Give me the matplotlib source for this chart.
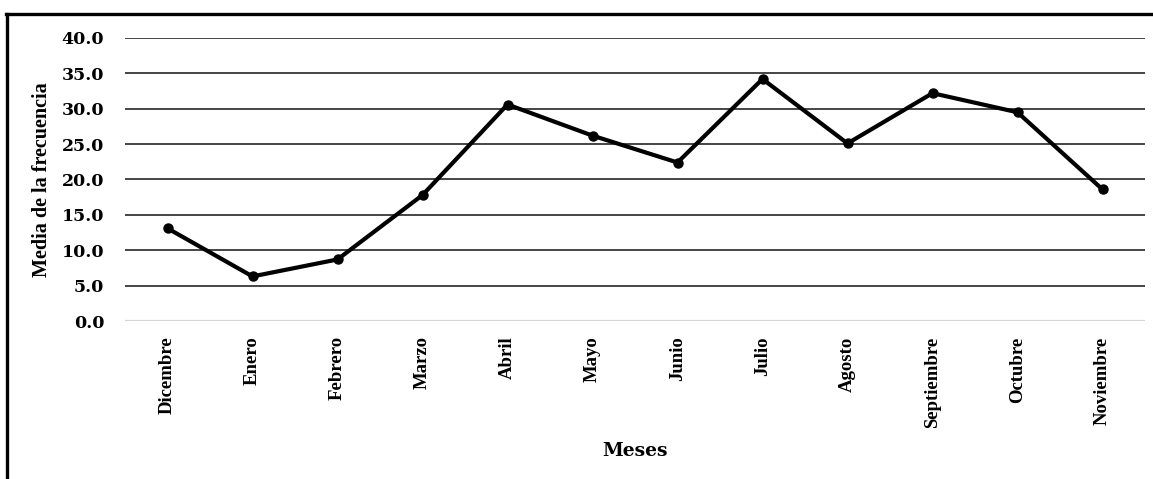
import matplotlib
matplotlib.use("Agg")
import matplotlib.pyplot as plt
from matplotlib.lines import Line2D

meses = ["Dicembre", "Enero", "Febrero", "Marzo", "Abril", "Mayo", "Junio",
         "Julio", "Agosto", "Septiembre", "Octubre", "Noviembre"]
media = [13.1, 6.3, 8.7, 17.8, 30.6, 26.2, 22.4, 34.2, 25.1, 32.2, 29.5, 18.6]
yticks = [0, 5, 10, 15, 20, 25, 30, 35, 40]

W, H = 1153, 479
fig = plt.figure(figsize=(W / 100, H / 100), dpi=100)
ax = fig.add_axes([125 / W, 1 - 321 / H, 1020 / W, 283 / H])

x = list(range(len(meses)))
ax.set_xlim(-0.5, len(meses) - 0.5)
ax.set_ylim(0, 40)

# gridlines
for v in yticks:
    if v == 0:
        ax.axhline(v, color="#d4d4d4", lw=1.6, zorder=1)
    else:
        ax.axhline(v, color="#262626", lw=1.2, zorder=1)

ax.plot(x, media, color="black", lw=3.0, marker="o", markersize=6.5,
        solid_joinstyle="round", zorder=3)

for s in ax.spines.values():
    s.set_visible(False)

ax.set_yticks(yticks)
ax.set_yticklabels([f"{v:.1f}" for v in yticks], fontfamily="DejaVu Serif",
                   fontweight="bold", fontsize=12.5)
ax.set_xticks(x)
ax.set_xticklabels(meses, rotation=90, fontfamily="Liberation Serif",
                   fontweight="bold", fontsize=13.5)
ax.tick_params(axis="y", length=0, pad=15)
ax.tick_params(axis="x", length=0, pad=11)

ax.set_ylabel("Media de la frecuencia", fontfamily="Liberation Serif",
              fontweight="bold", fontsize=14.5, va="center")
ax.yaxis.set_label_coords(-0.081, 0.498)
ax.set_xlabel("Meses", fontfamily="DejaVu Serif", fontweight="bold",
              fontsize=13.5, va="center")
ax.xaxis.set_label_coords(0.5, -0.459)

# outer frame (top and left)
fig.add_artist(Line2D([6 / W, 1.0], [1 - 14 / H, 1 - 14 / H], color="black",
                      lw=2.4, transform=fig.transFigure))
fig.add_artist(Line2D([7 / W, 7 / W], [0, 1 - 14 / H], color="black",
                      lw=2.4, transform=fig.transFigure))

fig.savefig("out.png", dpi=100)
